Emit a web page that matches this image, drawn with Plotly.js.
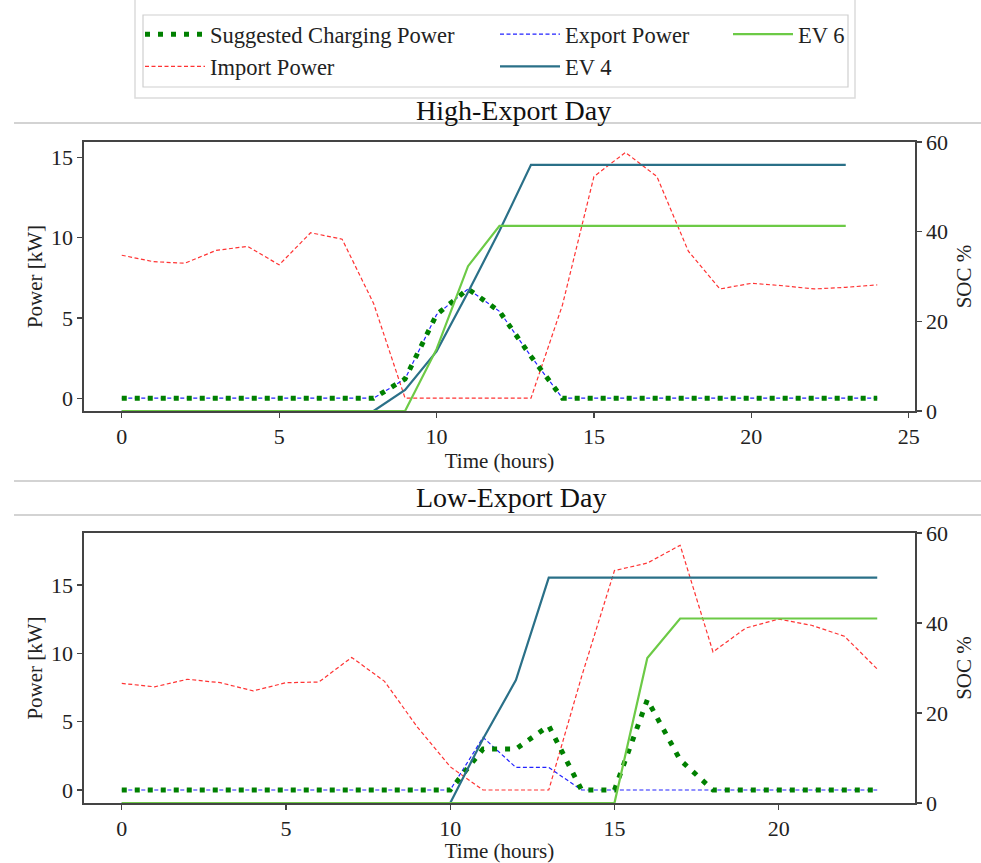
<!DOCTYPE html>
<html>
<head>
<meta charset="utf-8">
<script src="https://cdn.plot.ly/plotly-3.0.1.min.js"></script>
<style>html,body{margin:0;padding:0;background:#fff;}#chart{width:981px;height:863px;}</style>
</head>
<body>
<div id="chart"></div>
<script>
// ---------------- data ----------------
const hoursHigh = [0,1,2,3,4,5,6,7,8,9,10,11,12,13,14,15,16,17,18,19,20,21,22,23,24];
const hoursEV   = [0,1,2,3,4,5,6,7,8,9,10,11,12,13,14,15,16,17,18,19,20,21,22,23];
const hoursLow  = [0,1,2,3,4,5,6,7,8,9,10,11,12,13,14,15,16,17,18,19,20,21,22,23];

// High-Export Day (kW)
const suggestedHigh = [0,0,0,0,0,0,0,0,0,1.2,5.2,6.8,5.4,2.6,0,0,0,0,0,0,0,0,0,0,0];
const importHigh    = [8.9,8.5,8.4,9.2,9.45,8.3,10.3,9.9,5.9,0,0,0,0,0,5.8,13.8,15.3,13.8,9.15,6.8,7.15,7.0,6.8,6.9,7.05];
const exportHigh    = [0,0,0,0,0,0,0,0,0,1.2,5.2,6.8,5.4,2.6,0,0,0,0,0,0,0,0,0,0,0];
// High-Export Day (SOC %)
const ev4High = [0,0,0,0,0,0,0,0,0,4.7,13.3,26.5,40.2,54.9,54.9,54.9,54.9,54.9,54.9,54.9,54.9,54.9,54.9,54.9];
const ev6High = [0,0,0,0,0,0,0,0,0,0,13.8,32.3,41.3,41.3,41.3,41.3,41.3,41.3,41.3,41.3,41.3,41.3,41.3,41.3];

// Low-Export Day (kW)
const suggestedLow = [0,0,0,0,0,0,0,0,0,0,0,3.0,3.0,4.7,0,0,6.6,2.2,0,0,0,0,0,0];
const importLow    = [7.8,7.55,8.1,7.85,7.25,7.85,7.9,9.7,7.95,4.6,1.7,0,0,0,8.3,16.05,16.6,17.9,10.1,11.85,12.5,12.05,11.25,8.85];
const exportLow    = [0,0,0,0,0,0,0,0,0,0,0,3.85,1.65,1.65,0,0,0,0,0,0,0,0,0,0];
// Low-Export Day (SOC %)
const ev4Low = [0,0,0,0,0,0,0,0,0,0,0,14.3,27.3,50.1,50.1,50.1,50.1,50.1,50.1,50.1,50.1,50.1,50.1,50.1];
const ev6Low = [0,0,0,0,0,0,0,0,0,0,0,0,0,0,0,0,32.2,41.0,41.0,41.0,41.0,41.0,41.0,41.0];

// ---------------- styles ----------------
const FONT = "'Liberation Serif', 'Times New Roman', serif";
const W = 981, H = 863;
const px = v => v / W;
const py = v => 1 - v / H;

const sSuggested = {color:'#008000', width:5, dash:'5px,8px'};
const sImport    = {color:'#ff3333', width:1.2, dash:'4px,2.5px'};
const sExport    = {color:'#2222ff', width:1.2, dash:'4px,2.5px'};
const sEV4       = {color:'#2a7088', width:2.2};
const sEV6       = {color:'#6cca46', width:2.2};

const traces = [
  // top
  {x:hoursHigh, y:importHigh, xaxis:'x', yaxis:'y', name:'Import Power', mode:'lines', line:sImport, legend:'legend', legendrank:2},
  {x:hoursHigh, y:exportHigh, xaxis:'x', yaxis:'y', name:'Export Power', mode:'lines', line:sExport, legend:'legend2', legendrank:1},
  {x:hoursHigh, y:suggestedHigh, xaxis:'x', yaxis:'y', name:'Suggested Charging Power', mode:'lines', line:sSuggested, legend:'legend', legendrank:1},
  {x:hoursEV, y:ev4High, xaxis:'x', yaxis:'y2', name:'EV 4', mode:'lines', line:sEV4, legend:'legend2', legendrank:2},
  {x:hoursEV, y:ev6High, xaxis:'x', yaxis:'y2', name:'EV 6', mode:'lines', line:sEV6, legend:'legend3'},
  // bottom
  {x:hoursLow, y:importLow, xaxis:'x2', yaxis:'y3', name:'Import Power', mode:'lines', line:sImport, showlegend:false},
  {x:hoursLow, y:exportLow, xaxis:'x2', yaxis:'y3', name:'Export Power', mode:'lines', line:sExport, showlegend:false},
  {x:hoursLow, y:suggestedLow, xaxis:'x2', yaxis:'y3', name:'Suggested Charging Power', mode:'lines', line:sSuggested, showlegend:false},
  {x:hoursEV, y:ev4Low, xaxis:'x2', yaxis:'y4', name:'EV 4', mode:'lines', line:sEV4, showlegend:false},
  {x:hoursEV, y:ev6Low, xaxis:'x2', yaxis:'y4', name:'EV 6', mode:'lines', line:sEV6, showlegend:false}
];

const spine = '#444';
const tickFont = {family:FONT, size:22, color:'#222'};
const titleFont = {family:FONT, size:21, color:'#222'};
const axBase = {
  showgrid:false, zeroline:false, showline:true, linecolor:spine, linewidth:1.6,
  ticks:'outside', ticklen:5, tickwidth:1.3, tickcolor:spine, tickfont:tickFont,
  automargin:false, fixedrange:true
};
const xDomain = [px(84), px(915)];
const legFont = {family:FONT, size:22.5, color:'#222'};
const legBase = {yanchor:'top', xanchor:'left', bgcolor:'rgba(0,0,0,0)', font:legFont, itemwidth:60, traceorder:'normal'};

const layout = {
  width:W, height:H, margin:{l:0,r:0,t:0,b:0}, paper_bgcolor:'#fff', plot_bgcolor:'#fff',
  font:{family:FONT, color:'#222'},
  xaxis: Object.assign({}, axBase, {domain:xDomain, anchor:'y', range:[-1.2,25.2], tickvals:[0,5,10,15,20,25], mirror:true,
    title:{text:'Time (hours)', font:titleFont, standoff:4}}),
  yaxis: Object.assign({}, axBase, {domain:[py(411), py(142)], anchor:'x', range:[-0.8,15.95], tickvals:[0,5,10,15],
    title:{text:'Power [kW]', font:titleFont, standoff:2}}),
  yaxis2: Object.assign({}, axBase, {overlaying:'y', side:'right', anchor:'x', range:[0,60], tickvals:[0,20,40,60],
    title:{text:'SOC %', font:titleFont, standoff:9}}),
  xaxis2: Object.assign({}, axBase, {domain:xDomain, anchor:'y3', range:[-1.15,24.15], tickvals:[0,5,10,15,20], mirror:true,
    title:{text:'Time (hours)', font:titleFont, standoff:4}}),
  yaxis3: Object.assign({}, axBase, {domain:[py(803), py(533)], anchor:'x2', range:[-0.95,18.8], tickvals:[0,5,10,15],
    title:{text:'Power [kW]', font:titleFont, standoff:2}}),
  yaxis4: Object.assign({}, axBase, {overlaying:'y3', side:'right', anchor:'x2', range:[0,60], tickvals:[0,20,40,60],
    title:{text:'SOC %', font:titleFont, standoff:9}}),
  legend:  Object.assign({}, legBase, {x:px(140), y:py(13)}),
  legend2: Object.assign({}, legBase, {x:px(495), y:py(13)}),
  legend3: Object.assign({}, legBase, {x:px(728), y:py(13)}),
  annotations: [
    {text:'High-Export Day', xref:'paper', yref:'paper', x:px(513), y:py(110), xanchor:'center', yanchor:'middle', showarrow:false, font:{family:FONT, size:28, color:'#111'}},
    {text:'Low-Export Day', xref:'paper', yref:'paper', x:px(511), y:py(497), xanchor:'center', yanchor:'middle', showarrow:false, font:{family:FONT, size:28, color:'#111'}}
  ],
  shapes: [
    {type:'line', xref:'paper', yref:'paper', x0:px(14), x1:1, y0:py(123), y1:py(123), line:{color:'#c4c4c4', width:1.5}},
    {type:'line', xref:'paper', yref:'paper', x0:px(14), x1:1, y0:py(481), y1:py(481), line:{color:'#c4c4c4', width:1.5}},
    {type:'line', xref:'paper', yref:'paper', x0:px(14), x1:1, y0:py(515), y1:py(515), line:{color:'#c4c4c4', width:1.5}},
    {type:'rect', xref:'paper', yref:'paper', x0:px(135), x1:px(855), y0:py(98), y1:1.02, line:{color:'#dcdcdc', width:1.5}},
    {type:'rect', xref:'paper', yref:'paper', x0:px(143), x1:px(848), y0:py(87), y1:py(15), line:{color:'#cfcfcf', width:1.2}}
  ],
  showlegend:true
};

Plotly.newPlot('chart', traces, layout, {displayModeBar:false, staticPlot:true});
</script>
</body>
</html>
